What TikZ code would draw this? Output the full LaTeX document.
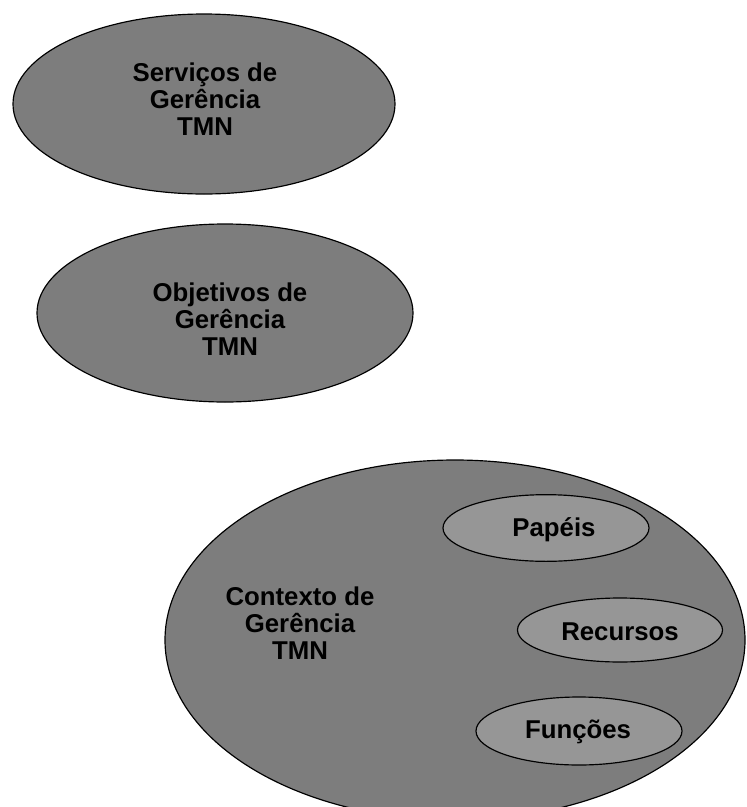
\documentclass[tikz,border=0pt]{standalone}
\usepackage{fontspec}
\setmainfont{Liberation Sans}
\usepackage{tikz}
\usetikzlibrary{shapes,positioning,calc}
\usepackage{xcolor}
\definecolor{stipple}{RGB}{125,125,125}
\definecolor{lightstipple}{RGB}{150,150,150}
\tikzset{
    bigellipse/.style={
        ellipse,
        draw,
        line width=1pt,
        fill=stipple,
        inner sep=0pt
    },
    smallellipse/.style={
        bigellipse,
        fill=lightstipple,
        minimum width=6.18cm,
        minimum height=2cm
    },
    ellipselabel/.style={
        align=center,
        font=\fontsize{22}{23}\selectfont\bfseries
    }
}

\begin{document}
\begin{tikzpicture}
    \clip (0,0) rectangle (22.41,-24.21);
    \useasboundingbox (0,0) rectangle (22.41,-24.21);

    % Upper ellipses
    \node[bigellipse, minimum width=11.46cm, minimum height=5.4cm] (servicos) at (6.12,-3.12) {};
    \node[ellipselabel] (servicostxt) at (6.15,-2.97) {Serviços de\\Gerência\\TMN};

    \node[bigellipse, minimum width=11.28cm, minimum height=5.34cm] (objetivos) at (6.75,-9.39) {};
    \node[ellipselabel] (objetivostxt) at (6.9,-9.57) {Objetivos de\\Gerência\\TMN};

    % Context with its parts
    \node[bigellipse, minimum width=17.4cm, minimum height=10.8cm] (contexto) at (13.65,-19.2) {};
    \node[ellipselabel] (contextotxt) at (9.0,-18.69) {Contexto de\\Gerência\\TMN};

    \node[smallellipse] (papeis) at (16.38,-15.84) {};
    \node[ellipselabel] (papeistxt) at (16.62,-15.9) {Papéis};
    \node[smallellipse, minimum width=6.15cm, minimum height=1.92cm] (recursos) at (18.6,-18.9) {};
    \node[ellipselabel] (recursostxt) at (18.6,-18.96) {Recursos};
    \node[smallellipse, minimum height=2.04cm] (funcoes) at (17.37,-21.93) {};
    \node[ellipselabel] (funcoestxt) at (17.34,-21.96) {Funções};
\end{tikzpicture}
\end{document}
